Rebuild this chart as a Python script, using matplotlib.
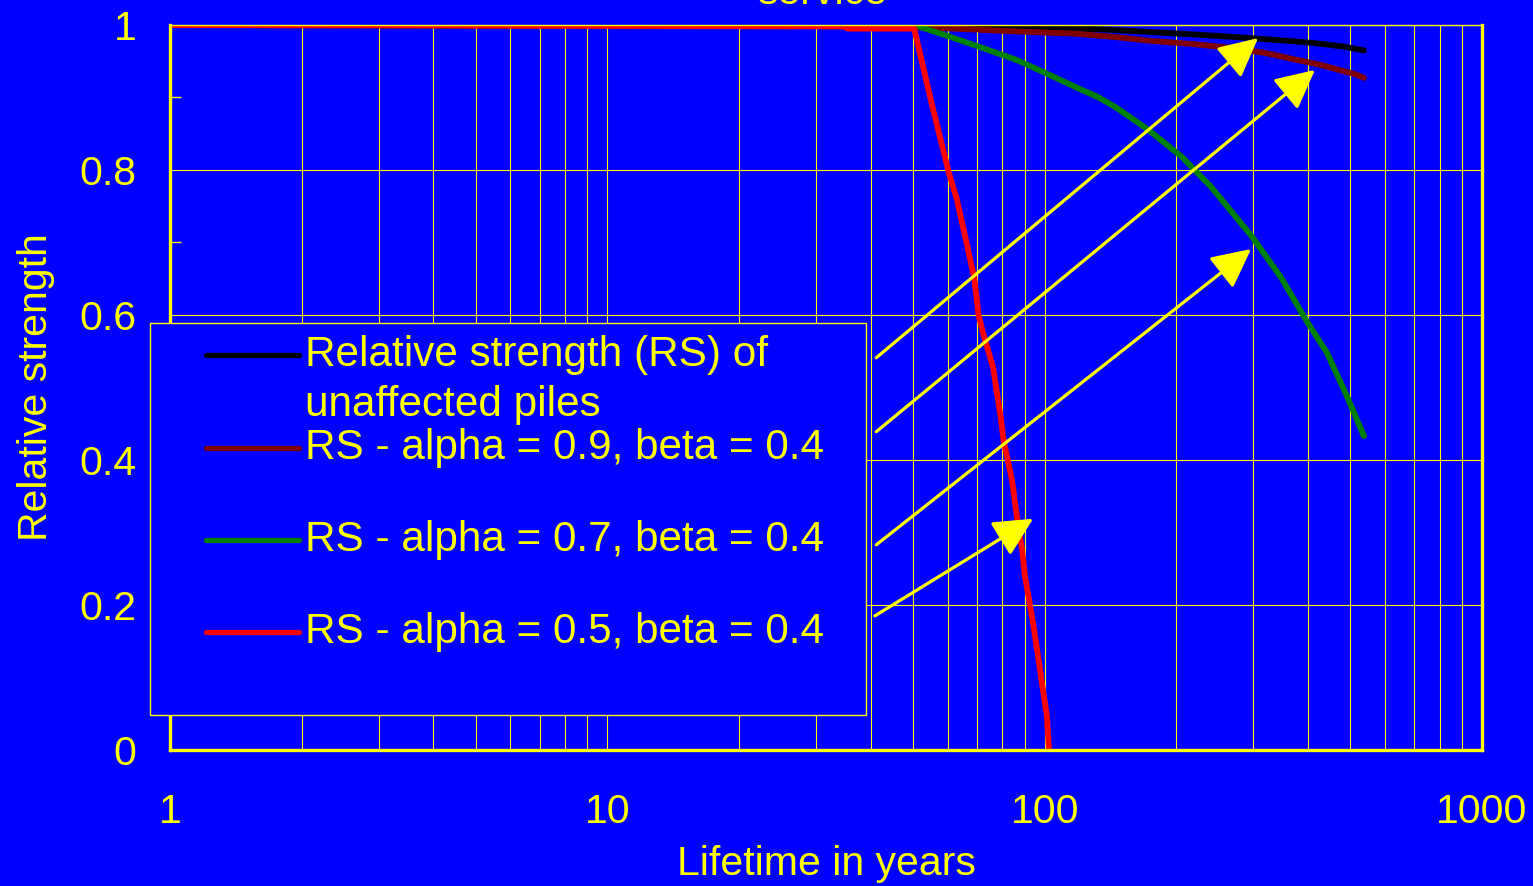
import numpy as np
import matplotlib
matplotlib.use("Agg")
import matplotlib.pyplot as plt
from matplotlib.ticker import LogLocator, MultipleLocator, NullFormatter
from matplotlib.legend_handler import HandlerLine2D

plt.rcParams['font.family'] = ['Liberation Sans', 'DejaVu Sans']

# ---------------- data ----------------
years_unaffected = [1, 70, 104, 135, 205, 280, 345, 415, 485, 537]
rs_unaffected = [1.0, 0.998, 0.996, 0.994, 0.988, 0.983, 0.979, 0.975, 0.970, 0.965]

years_a09 = [1, 35, 50.8, 62, 87, 118, 147, 176, 216, 272, 322, 376, 428, 471, 514, 537]
rs_a09 = [1.0, 1.0, 0.997, 0.995, 0.991, 0.988, 0.983, 0.978, 0.974, 0.968, 0.961,
          0.952, 0.945, 0.938, 0.932, 0.927]

years_a07 = [1, 50.3, 59.2, 70.8, 86.1, 100.2, 119, 132, 145, 173, 206, 240, 298, 347,
             396, 442, 492, 537]
rs_a07 = [1.0, 1.0, 0.986, 0.970, 0.952, 0.934, 0.913, 0.901, 0.887, 0.855, 0.818, 0.777,
          0.708, 0.652, 0.593, 0.548, 0.487, 0.433]

years_a05 = [1, 34.6, 35.5, 50.3, 55.6, 60.4, 63.0, 69.0, 70.6, 72.3, 76.2, 79.5, 80.5,
             84.2, 86.4, 88.8, 90.2, 93.6, 96.1, 98.6, 101.2, 102.3]
rs_a05 = [1.0, 0.998, 0.995, 0.995, 0.883, 0.796, 0.759, 0.652, 0.600, 0.575, 0.528,
          0.455, 0.428, 0.372, 0.321, 0.276, 0.239, 0.183, 0.138, 0.092, 0.046, 0.0]

series_labels = ["Relative strength (RS) of\nunaffected piles",
                 "RS - alpha = 0.9, beta = 0.4\n",
                 "RS - alpha = 0.7, beta = 0.4\n",
                 "RS - alpha = 0.5, beta = 0.4\n"]
series_colors = ['#000000', '#800000', '#008000', '#FF0000']

# annotation arrows (start -> end, data coordinates)
arrow_start_years = [41.2, 41.2, 41.2, 40.9]
arrow_start_rs = [0.541, 0.439, 0.283, 0.185]
arrow_end_years = [307.6, 415, 296.5, 94.1]
arrow_end_rs = [0.982, 0.938, 0.691, 0.319]

xticks = [1, 10, 100, 1000]
xtick_labels = ["1", "10", "100", "1000"]
yticks = [0, 0.2, 0.4, 0.6, 0.8, 1.0]
ytick_labels = ["0", "0.2", "0.4", "0.6", "0.8", "1"]

title_text = "service"
xlabel_text = "Lifetime in years"
ylabel_text = "Relative strength"

# ---------------- style ----------------
BLUE = '#0000FF'
YELLOW = '#FFFF00'
W, H = 1533, 886

fig = plt.figure(figsize=(W / 100, H / 100), dpi=100, facecolor=BLUE)
ax = fig.add_axes([170 / W, (H - 750) / H, 1312 / W, 725 / H])
ax.set_facecolor(BLUE)
ax.set_xscale('log')
ax.set_xlim(1, 1000)
ax.set_ylim(0, 1)

ax.set_xticks(xticks, labels=xtick_labels)
ax.xaxis.set_minor_locator(LogLocator(base=10, subs=np.arange(2, 10)))
ax.xaxis.set_minor_formatter(NullFormatter())
ax.set_yticks(yticks, labels=ytick_labels)
ax.yaxis.set_minor_locator(MultipleLocator(0.1))

ax.tick_params(axis='both', which='major', length=0, colors=YELLOW, labelsize=29.5)
ax.tick_params(axis='x', which='major', pad=31)
ax.tick_params(axis='y', which='major', pad=24)
ax.tick_params(axis='x', which='minor', length=0)
ax.tick_params(axis='y', which='minor', direction='in', length=8, width=1, color=YELLOW)

ax.grid(True, which='major', axis='y', color=YELLOW, lw=0.8)
ax.grid(True, which='both', axis='x', color=YELLOW, lw=0.8)
ax.set_axisbelow(True)

for side in ['left', 'bottom', 'right']:
    ax.spines[side].set_color(YELLOW)
    ax.spines[side].set_linewidth(2.4)
ax.spines['top'].set_color(YELLOW)
ax.spines['top'].set_linewidth(1.0)

ax.set_xlabel(xlabel_text, color=YELLOW, fontsize=29.5, labelpad=10)
ax.set_ylabel(ylabel_text, color=YELLOW, fontsize=29.5, labelpad=18)
fig.text(823 / W, 1 - 4 / H, title_text, color=YELLOW, fontsize=29.5,
         ha='center', va='baseline')

xs_all = [years_unaffected, years_a09, years_a07, years_a05]
ys_all = [rs_unaffected, rs_a09, rs_a07, rs_a05]
handles = []
for xs, ys, c, lab in zip(xs_all, ys_all, series_colors, series_labels):
    ln, = ax.plot(xs, ys, color=c, lw=4.2, solid_capstyle='round',
                  solid_joinstyle='round', label=lab)
    handles.append(ln)

for x0, y0, x1, y1 in zip(arrow_start_years, arrow_start_rs, arrow_end_years, arrow_end_rs):
    ax.annotate("", xy=(x1, y1), xytext=(x0, y0),
                arrowprops=dict(arrowstyle='-|>,head_length=0.6,head_width=0.3',
                                mutation_scale=40, color=YELLOW, lw=2.3,
                                shrinkA=0, shrinkB=0),
                zorder=6)


class RaisedLine(HandlerLine2D):
    def __init__(self, raise_by=0.0, **kw):
        super().__init__(**kw)
        self.raise_by = raise_by

    def create_artists(self, legend, orig_handle, xdescent, ydescent, width,
                       height, fontsize, trans):
        arts = super().create_artists(legend, orig_handle, xdescent, ydescent,
                                      width, height, fontsize, trans)
        for a in arts:
            a.set_ydata(np.asarray(a.get_ydata(), float) + self.raise_by * fontsize)
        return arts


LEG_FS = 30.4
hmap = {h: RaisedLine(raise_by=0.61, xpad=1.03) for h in handles}
leg = ax.legend(handles=handles, labels=series_labels, handler_map=hmap,
                loc='upper left',
                bbox_to_anchor=(-20 / 1312, (750 - 323) / 725 - 0.5, 716 / 1312, 0.5),
                mode='expand', borderaxespad=0, borderpad=0.29,
                handlelength=3.25, handletextpad=0.13, labelspacing=0.05,
                fontsize=LEG_FS, frameon=True, fancybox=False, framealpha=1,
                facecolor=BLUE, edgecolor=YELLOW, labelcolor=YELLOW)
leg.get_frame().set_linewidth(1.0)
for t in leg.get_texts():
    t.set_linespacing(1.33)
for ln in leg.get_lines():
    ln.set_linewidth(3.8)

fig.savefig('out.png', dpi=100, facecolor=BLUE)
